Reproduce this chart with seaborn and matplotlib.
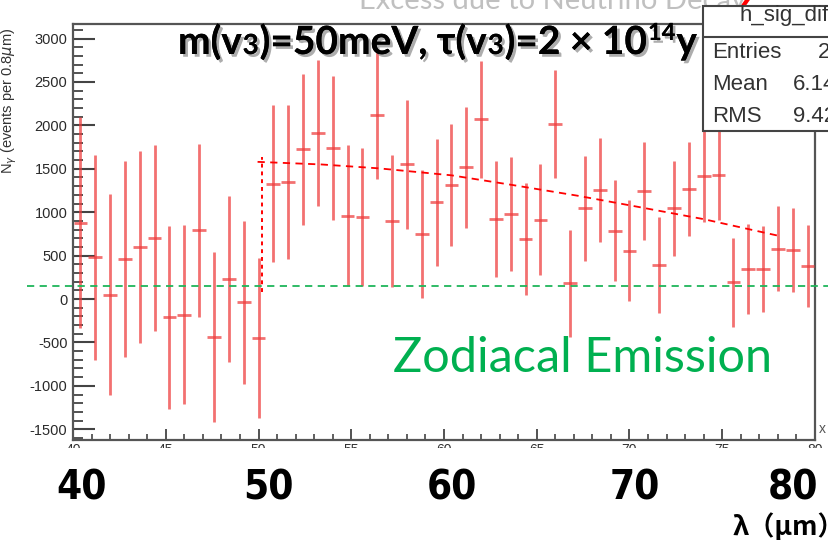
import matplotlib
matplotlib.use("Agg")
import numpy as np
import pandas as pd
import seaborn as sns
import matplotlib.pyplot as plt
from matplotlib import patheffects as pe
from matplotlib.patches import Rectangle
from matplotlib.lines import Line2D
from matplotlib.ticker import MultipleLocator
from matplotlib import font_manager as fm

# ---------------- data ----------------
wavelength = [40.4, 41.2, 42.0, 42.8, 43.6, 44.4, 45.2, 46.0, 46.8, 47.6,
              48.4, 49.2, 50.0, 50.8, 51.6, 52.4, 53.2, 54.0, 54.8, 55.6,
              56.4, 57.2, 58.0, 58.8, 59.6, 60.4, 61.2, 62.0, 62.8, 63.6,
              64.4, 65.2, 66.0, 66.8, 67.6, 68.4, 69.2, 70.0, 70.8, 71.6,
              72.4, 73.2, 74.0, 74.8, 75.6, 76.4, 77.2, 78.0, 78.8, 79.6]
counts = [880, 480, 50, 460, 600, 700, -210, -180, 790, -435,
          230, -38, -450, 1330, 1350, 1723, 1910, 1735, 960, 944,
          2120, 894, 1552, 750, 1113, 1313, 1515, 2072, 917, 975,
          690, 914, 2019, 180, 1047, 1256, 786, 558, 1248, 390,
          1043, 1270, 1415, 1425, 195, 345, 341, 578, 565, 376]
errors = [1211, 1181, 1158, 1130, 1102, 1071, 1052, 1029, 1000, 980,
          961, 942, 923, 900, 885, 865, 842, 830, 811, 798,
          740, 760, 746, 738, 727, 708, 693, 673, 669, 658,
          649, 637, 623, 612, 606, 600, 581, 577, 564, 554,
          548, 539, 525, 520, 512, 520, 495, 490, 487, 471]

model_lambda = [49.95, 53.4, 56.5, 60.4, 63.5, 67.2, 70.5, 74.0, 78.0]
model_counts = [1580, 1550, 1505, 1425, 1320, 1190, 1060, 920, 730]
step_lambda = [50.2, 50.2]
step_counts = [80, 1640]
zodiacal_level = 150

yticks = [-1500, -1000, -500, 0, 500, 1000, 1500, 2000, 2500, 3000]
xticks_small = [40, 45, 50, 55, 60, 65, 70, 75, 80]
big_xlabels = ["40", "50", "60", "70", "80"]
title_text = "Excess due to Neutrino Decay"
stats_labels = ["Entries", "Mean", "RMS"]
stats_values = ["2000", "6.147", "9.425"]

df = pd.DataFrame({"wavelength": wavelength, "counts": counts, "err": errors})

# ---------------- style ----------------
sns.set_theme(style="ticks")
plt.rcParams["font.family"] = ["Liberation Sans", "DejaVu Sans"]
plt.rcParams["axes.unicode_minus"] = False

W, H = 829, 547
fig = plt.figure(figsize=(W / 100, H / 100), dpi=100)
fig.patch.set_facecolor("white")


def fx(px):
    return px / W


def fy(py):
    return 1 - py / H


ax = fig.add_axes([fx(73), fy(440), (815 - 73) / W, (440 - 24) / H])
ax.set_facecolor("white")

ax.errorbar(df["wavelength"], df["counts"], yerr=df["err"], xerr=0.37,
            fmt="none", ecolor="#ee3b3b", elinewidth=2.0, alpha=0.72,
            capsize=0, zorder=3)

sns.lineplot(x=model_lambda, y=model_counts, ax=ax, color="red",
             linewidth=1.3, linestyle=(0, (4, 3)), zorder=4,
             estimator=None, sort=False)
sns.lineplot(x=step_lambda, y=step_counts, ax=ax, color="red",
             linewidth=1.4, linestyle=(0, (2, 2)), zorder=4,
             estimator=None, sort=False)

ax.axhline(zodiacal_level, xmin=(27 - 73) / 742, xmax=(829 - 73) / 742,
           color="#1fb55a", linewidth=1.3, linestyle=(0, (4, 3)),
           clip_on=False, zorder=5)

ax.set_xlim(40, 80)
ax.set_ylim(-1624, 3168)
ax.set_yticks(yticks)
ax.set_xticks(xticks_small)
ax.yaxis.set_minor_locator(MultipleLocator(100))
ax.xaxis.set_minor_locator(MultipleLocator(1))
ax.tick_params(axis="y", which="major", direction="in", length=16, width=1.5,
               color="#444", labelsize=10.5, labelcolor="#2a2a2a", pad=4)
ax.tick_params(axis="y", which="minor", direction="in", length=7, width=1.3,
               color="#444")
ax.tick_params(axis="x", which="major", direction="in", length=8, width=1.3,
               color="#444", labelsize=10, labelcolor="#333", pad=2)
ax.tick_params(axis="x", which="minor", direction="in", length=4, width=1.2,
               color="#444")
for s in ax.spines.values():
    s.set_color("#555")
    s.set_linewidth(1.6)

ax.set_ylabel(r"N$_{\gamma}$ (events per 0.8$\mu$m)", fontsize=10.5,
              color="#333", loc="top")
ax.yaxis.set_label_coords(-(73 - 19) / 742, 1 - 4 / 416)
ax.text(1.005, 0.018, "x", transform=ax.transAxes, fontsize=10, color="#555")

# white overlay hiding lower part of small tick labels
fig.patches.append(Rectangle((0, 0), 1, fy(448), transform=fig.transFigure,
                             facecolor="white", edgecolor="none", zorder=5))

# Zodiacal text
fig.text(fx(393), fy(372), "Zodiacal Emission", color="#00b050",
         fontsize=35, family=["Lato", "Open Sans"], va="baseline", ha="left",
         zorder=10)

# Title (cut at top)
fig.text(fx(553), fy(9), title_text, ha="center", va="baseline",
         fontsize=21, color="#c0c0c0", family=["Lato", "Open Sans"], zorder=10)
fig.add_artist(Line2D([fx(741), fx(748)], [fy(9), fy(-1)], color="red",
                      linewidth=3, zorder=11))

# Stats box
fig.patches.append(Rectangle((fx(703), fy(131)), (140) / W, (131 - 6) / H,
                             transform=fig.transFigure, facecolor="white",
                             edgecolor="#444", linewidth=1.5, zorder=12))
fig.add_artist(Line2D([fx(703), fx(829)], [fy(37), fy(37)], color="#444",
                      linewidth=1.5, zorder=13))
fig.text(fx(740), fy(15), "h_sig_diff", fontsize=16, color="#333",
         va="center", ha="left", zorder=14)
for i, (lab, val) in enumerate(zip(stats_labels, stats_values)):
    yy = [53, 84, 117][i]
    fig.text(fx(712), fy(yy), lab, fontsize=16, color="#333", va="center",
             ha="left", zorder=14)
    fig.text(fx([818, 793, 793][i]), fy(yy), val, fontsize=16, color="#333",
             va="center", ha="left", zorder=14)

# Annotation with mixed sizes
fig.canvas.draw()
renderer = fig.canvas.get_renderer()
chunks = [("m(v", 28, 0), ("3", 20, 0), (")=50meV, τ(v", 28, 0), ("3", 20, 0),
          (")=2 × 10", 28, 0), ("14", 17, 14), ("y", 28, 0)]
xpos = 178
shadow = [pe.withSimplePatchShadow(offset=(2, -2), shadow_rgbFace="#777",
                                   alpha=0.6), pe.Normal()]
for txt, size, rise in chunks:
    t = fig.text(fx(xpos), fy(54 + (-rise)), txt, fontsize=size,
                 fontweight="bold", family=["Lato", "Open Sans", "DejaVu Sans"],
                 color="black", va="baseline", ha="left", zorder=15,
                 path_effects=shadow)
    bb = t.get_window_extent(renderer)
    xpos += bb.width + 1

# Big tick labels (condensed bold font if available)
names = {f.name for f in fm.fontManager.ttflist}
if "Liberation Sans Narrow" in names:
    big_family, big_stretch = ["Liberation Sans Narrow"], "normal"
else:
    big_family, big_stretch = ["DejaVu Sans"], "condensed"
for lab, cx in zip(big_xlabels, [82, 268, 452, 635, 793]):
    fig.text(fx(cx), fy(500), lab, fontsize=29, fontweight="bold",
             family=big_family, fontstretch=big_stretch, ha="center",
             va="baseline", color="black", zorder=15)
fig.text(fx(733), fy(535), "λ（μm）", fontsize=19, fontweight="bold",
         family=["Noto Sans CJK JP", "DejaVu Sans"], ha="left", va="baseline",
         color="black", zorder=15)

fig.savefig("out.png", dpi=100)
